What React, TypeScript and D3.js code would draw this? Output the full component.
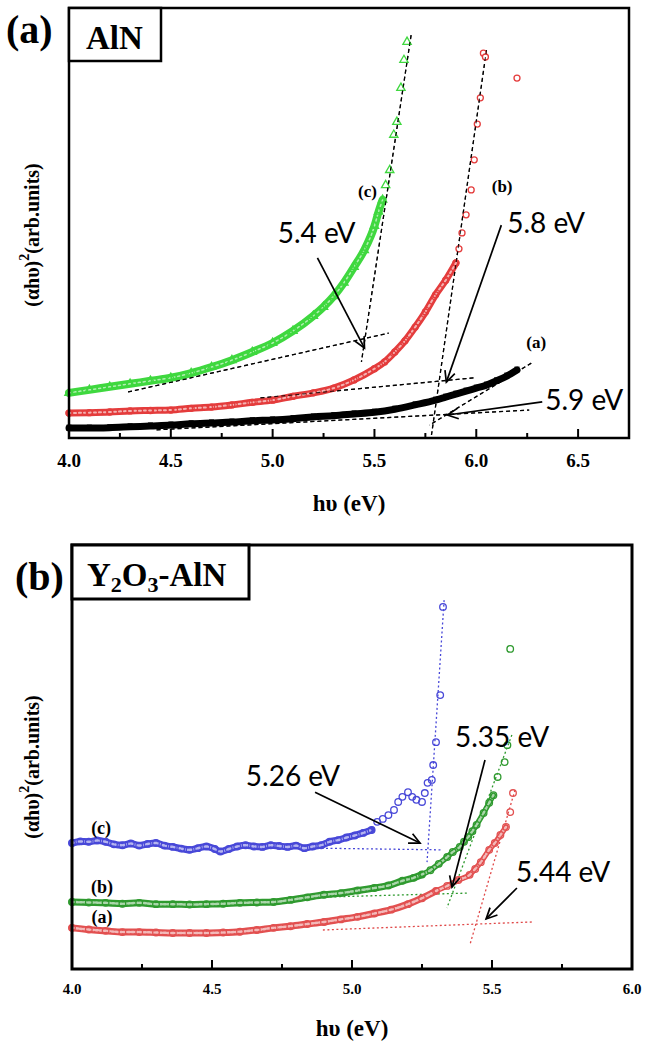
import React from 'react';
import * as d3 from 'd3';

type P = [number, number];

const W = 663;
const H = 1042;

// ---------- Panel (a) AlN : [hv (eV), (αhv)^2 arb. units] ----------
const aMajorTicks = [4.0, 4.5, 5.0, 5.5, 6.0, 6.5];
const aMinorTicks = [4.25, 4.75, 5.25, 5.75, 6.25];

const aBlack: P[] = [
  [4.0, 2.3], [4.1, 2.3], [4.2, 2.4], [4.3, 2.6], [4.4, 2.8], [4.5, 3.0], [4.6, 3.3], [4.7, 3.5],
  [4.8, 3.7], [4.9, 4.0], [5.0, 4.2], [5.1, 4.5], [5.2, 4.9], [5.3, 5.2], [5.4, 5.6], [5.5, 6.0],
  [5.6, 6.7], [5.7, 7.7], [5.8, 8.8], [5.85, 9.5], [5.9, 10.2], [5.95, 10.9], [6.0, 11.6],
  [6.05, 12.3], [6.1, 13.3], [6.15, 14.4], [6.2, 15.8],
];
const aRedDense: P[] = [
  [4.0, 5.8], [4.1, 5.9], [4.2, 6.05], [4.3, 6.3], [4.4, 6.4], [4.5, 6.5], [4.6, 6.9], [4.7, 7.2],
  [4.8, 7.7], [4.9, 8.3], [5.0, 8.8], [5.1, 9.7], [5.2, 10.5], [5.3, 11.6], [5.4, 13.5], [5.5, 16.1],
  [5.55, 17.7], [5.6, 20.0], [5.65, 22.6], [5.7, 25.8], [5.75, 29.3], [5.8, 33.3], [5.85, 36.7],
  [5.9, 40.7],
];
const aRedSparse: P[] = [
  [5.915, 44.0], [5.93, 47.7], [5.95, 51.9], [5.975, 57.7], [5.99, 64.7], [6.005, 73.0], [6.02, 79.1],
  [6.035, 89.5], [6.045, 88.6], [6.2, 83.7],
];
const aGreenDense: P[] = [
  [4.0, 10.5], [4.1, 11.2], [4.2, 11.9], [4.3, 12.6], [4.4, 13.3], [4.5, 14.0], [4.6, 15.1],
  [4.7, 16.5], [4.8, 18.1], [4.9, 20.0], [5.0, 22.1], [5.1, 24.9], [5.2, 28.4], [5.25, 30.5],
  [5.3, 33.0], [5.35, 36.1], [5.4, 39.8], [5.45, 43.7], [5.5, 49.3], [5.52, 52.6], [5.54, 55.4],
];
const aGreenSparse: P[] = [
  [5.555, 58.8], [5.575, 62.3], [5.595, 70.5], [5.61, 73.5], [5.63, 81.4], [5.645, 87.9], [5.66, 92.1],
];
// dashed tangent lines [E1, y1, E2, y2]
const aTangents: number[][] = [
  [5.68, 93.7, 5.436, 17.7],
  [4.29, 10.7, 5.57, 24.4],
  [6.05, 90.2, 5.78, 0.7],
  [4.94, 9.3, 5.99, 14.0],
  [4.43, 1.9, 6.26, 6.5],
  [6.27, 17.4, 5.77, 3.0],
];
const aArrows: number[][] = [
  [5.22, 41.9, 5.451, 20.9],
  [6.123, 49.5, 5.853, 13.0],
  [6.324, 8.4, 5.858, 5.35],
];
const aNoteText = ['5.4 eV', '5.8 eV', '5.9 eV'];
const aNotePos: P[] = [[5.216, 47.9], [6.343, 50.2], [6.53, 9.1]];
const aCurveText = ['(c)', '(b)', '(a)'];
const aCurvePos: P[] = [[5.466, 57.4], [6.127, 58.4], [6.294, 22.3]];

// ---------- Panel (b) Y2O3-AlN ----------
const bMajorTicks = [4.0, 4.5, 5.0, 5.5, 6.0];
const bMinorTicks = [4.25, 4.75, 5.25, 5.75];

const bBlue: P[] = [
  [4.0, 29.7], [4.03, 30.1], [4.06, 30.0], [4.09, 30.3], [4.12, 30.0], [4.15, 29.4], [4.18, 29.2],
  [4.21, 29.6], [4.24, 29.1], [4.27, 29.5], [4.3, 29.7], [4.33, 29.1], [4.36, 28.8], [4.39, 28.4],
  [4.42, 28.1], [4.45, 28.5], [4.48, 28.9], [4.51, 28.3], [4.53, 27.7], [4.56, 28.3], [4.59, 28.9],
  [4.62, 29.2], [4.65, 28.9], [4.68, 28.8], [4.71, 29.2], [4.74, 29.0], [4.77, 28.8], [4.8, 29.1],
  [4.83, 28.5], [4.86, 28.9], [4.89, 29.2], [4.92, 30.0], [4.95, 30.4], [4.98, 31.0], [5.01, 31.5],
  [5.04, 32.1], [5.07, 32.8], [5.09, 34.7], [5.11, 35.4], [5.13, 36.3], [5.15, 37.5], [5.165, 39.4],
  [5.18, 40.6], [5.2, 41.7], [5.215, 40.6], [5.23, 39.9], [5.25, 39.4], [5.26, 41.5], [5.27, 43.9],
  [5.285, 44.6], [5.29, 48.1], [5.3, 53.5], [5.315, 64.6], [5.325, 85.4],
];
const bGreen: P[] = [
  [4.0, 15.8], [4.06, 15.7], [4.12, 15.6], [4.18, 15.4], [4.24, 15.6], [4.3, 15.3], [4.36, 15.3],
  [4.42, 15.2], [4.48, 15.3], [4.54, 15.4], [4.6, 15.6], [4.66, 15.7], [4.72, 15.8], [4.78, 16.3],
  [4.84, 16.9], [4.9, 17.5], [4.96, 17.9], [5.02, 18.5], [5.08, 19.1], [5.13, 19.7], [5.18, 20.8],
  [5.22, 21.5], [5.25, 22.3], [5.28, 23.3], [5.31, 24.8], [5.34, 26.4], [5.36, 27.6], [5.385, 28.8],
  [5.4, 30.0], [5.415, 31.1], [5.43, 32.5], [5.445, 34.0], [5.47, 36.8], [5.49, 39.2], [5.505, 41.0],
  [5.52, 45.3], [5.545, 48.8], [5.555, 52.8], [5.565, 75.5],
];
const bRed: P[] = [
  [4.0, 9.7], [4.06, 9.3], [4.12, 9.0], [4.18, 8.7], [4.24, 8.7], [4.3, 8.6], [4.36, 8.5],
  [4.42, 8.5], [4.48, 8.5], [4.54, 8.6], [4.6, 8.8], [4.66, 9.2], [4.72, 9.7], [4.78, 10.1],
  [4.84, 10.6], [4.9, 11.1], [4.96, 11.7], [5.02, 12.3], [5.08, 13.1], [5.14, 14.0], [5.2, 15.3],
  [5.25, 16.7], [5.3, 18.4], [5.34, 19.6], [5.38, 21.0], [5.42, 22.2], [5.44, 23.6], [5.46, 25.2],
  [5.49, 28.1], [5.51, 29.7], [5.53, 31.6], [5.55, 33.5], [5.565, 37.0], [5.575, 41.5],
];
const bTangents: number[][] = [
  [5.329, 87.0, 5.268, 25.2],
  [4.875, 28.5, 5.321, 28.1],
  [5.571, 55.2, 5.339, 14.4],
  [4.921, 17.0, 5.414, 17.9],
  [5.582, 42.2, 5.421, 5.7],
  [4.896, 9.2, 5.646, 11.1],
];
const bTangentColor = ['#4848d8', '#4848d8', '#2f9a2f', '#2f9a2f', '#e04848', '#e04848'];
const bArrows: number[][] = [
  [4.868, 41.7, 5.243, 29.7],
  [5.475, 49.3, 5.357, 19.3],
  [5.589, 19.1, 5.479, 11.8],
];
const bNoteText = ['5.26 eV', '5.35 eV', '5.44 eV'];
const bNotePos: P[] = [[4.789, 45.8], [5.536, 55.0], [5.754, 23.1]];
const bCurveText = ['(c)', '(b)', '(a)'];
const bCurvePos: P[] = [[4.104, 33.3], [4.107, 19.3], [4.107, 12.3]];

const SERIF = '"Liberation Serif", "Times New Roman", serif';
const SANS = 'Lato, "Open Sans", sans-serif';

function Arrow({ x1, y1, x2, y2 }: { x1: number; y1: number; x2: number; y2: number }) {
  const ang = Math.atan2(y1 - y2, x1 - x2);
  const L = 12, a = 0.45;
  const p1 = [x2 + L * Math.cos(ang + a), y2 + L * Math.sin(ang + a)];
  const p2 = [x2 + L * Math.cos(ang - a), y2 + L * Math.sin(ang - a)];
  return (
    <g stroke="#000" strokeWidth={1.7} fill="none">
      <line x1={x1} y1={y1} x2={x2} y2={y2} />
      <polyline points={`${p1[0]},${p1[1]} ${x2},${y2} ${p2[0]},${p2[1]}`} />
    </g>
  );
}

function Band({ data, x, y, color, width, inner, dash }: any) {
  const line = d3.line<P>().x(d => x(d[0])).y(d => y(d[1])).curve(d3.curveMonotoneX);
  const d = line(data) || '';
  return (
    <g fill="none" strokeLinecap="round" strokeLinejoin="round">
      <path d={d} stroke={color} strokeWidth={width} />
      {inner && <path d={d} stroke="#fff" strokeWidth={inner} strokeDasharray={dash || '2 3'} opacity={0.6} />}
    </g>
  );
}

function Axes({ l, r, t, b, major, minor, x, fs, sw, majLen, minLen, labelDy, titleY }: any) {
  return (
    <g>
      <rect x={l} y={t} width={r - l} height={b - t} fill="none" stroke="#000" strokeWidth={sw} />
      {major.map((v: number) => (
        <line key={'M' + v} x1={x(v)} x2={x(v)} y1={b} y2={b - majLen} stroke="#000" strokeWidth={2} />
      ))}
      {minor.map((v: number) => (
        <line key={'m' + v} x1={x(v)} x2={x(v)} y1={b} y2={b - minLen} stroke="#000" strokeWidth={2} />
      ))}
      {major.map((v: number) => (
        <text key={'t' + v} x={x(v)} y={b + labelDy} textAnchor="middle" fontFamily={SERIF}
          fontWeight="bold" fontSize={fs}>{v.toFixed(1)}</text>
      ))}
      <text x={(l + r) / 2} y={titleY} textAnchor="middle" fontFamily={SERIF} fontWeight="bold" fontSize={23}>
        hυ (eV)
      </text>
    </g>
  );
}

function YLabel({ cx, cy }: { cx: number; cy: number }) {
  return (
    <text transform={`translate(${cx},${cy}) rotate(-90)`} textAnchor="middle" dominantBaseline="central"
      fontFamily={SERIF} fontWeight="bold" fontSize={20}>
      (αhυ)<tspan fontSize={14} dy={-8}>2</tspan><tspan dy={8}>(arb.units)</tspan>
    </text>
  );
}

export default function App() {
  const xa = d3.scaleLinear().domain([4, 6.75]).range([69, 629]);
  const ya = d3.scaleLinear().domain([0, 100]).range([438, 8]);
  const xb = d3.scaleLinear().domain([4, 6]).range([72, 632]);
  const yb = d3.scaleLinear().domain([0, 100]).range([969, 545]);

  const GA = '#3fd83f', RA = '#e43c3c';
  const BB = '#4848d8', GB = '#2f9a2f', RB = '#e25050';

  const tri = d3.symbol().type(d3.symbolTriangle).size(30)() || '';

  return (
    <svg width={W} height={H} style={{ position: 'absolute', left: 0, top: 0, background: '#fff' }}>
      <rect x={0} y={0} width={W} height={H} fill="#fff" />
      {/* ================= Panel (a) ================= */}
      <g>
        {aTangents.map((t, i) => (
          <line key={i} x1={xa(t[0])} y1={ya(t[1])} x2={xa(t[2])} y2={ya(t[3])}
            stroke="#000" strokeWidth={1.3} strokeDasharray="4 3" />
        ))}
        <Band data={aBlack} x={xa} y={ya} color="#000" width={7} />
        {aBlack.map((d, i) => (
          <rect key={i} x={xa(d[0]) - 2.5} y={ya(d[1]) - 3.5} width={5} height={6} fill="#000" />
        ))}
        <Band data={aRedDense} x={xa} y={ya} color={RA} width={7} inner={2} />
        {aRedDense.concat(aRedSparse).map((d, i) => (
          <circle key={i} cx={xa(d[0])} cy={ya(d[1])} r={3} fill="#fff" stroke={RA} strokeWidth={1.3}
            fillOpacity={i < aRedDense.length ? 0 : 1} />
        ))}
        <Band data={aGreenDense} x={xa} y={ya} color={GA} width={8} inner={1.5} />
        {aGreenDense.concat(aGreenSparse).map((d, i) => (
          <path key={i} d={tri} transform={`translate(${xa(d[0])},${ya(d[1])})`} fill="none"
            stroke={GA} strokeWidth={1.3} />
        ))}
        {aTangents.map((t, i) => (
          <line key={'o' + i} x1={xa(t[0])} y1={ya(t[1])} x2={xa(t[2])} y2={ya(t[3])}
            stroke="#000" strokeWidth={1.1} strokeDasharray="4 3" opacity={0.8} />
        ))}
        {aArrows.map((a, i) => (
          <Arrow key={i} x1={xa(a[0])} y1={ya(a[1])} x2={xa(a[2])} y2={ya(a[3])} />
        ))}
        {aNoteText.map((s, i) => (
          <text key={i} x={xa(aNotePos[i][0])} y={ya(aNotePos[i][1])} textAnchor="middle"
            dominantBaseline="central" fontFamily={SANS} fontSize={28}>{s}</text>
        ))}
        {aCurveText.map((s, i) => (
          <text key={i} x={xa(aCurvePos[i][0])} y={ya(aCurvePos[i][1])} textAnchor="middle"
            dominantBaseline="central" fontFamily={SERIF} fontWeight="bold" fontSize={17}>{s}</text>
        ))}
        <Axes l={69} r={629} t={8} b={438} major={aMajorTicks} minor={aMinorTicks} x={xa} fs={19}
          sw={2.5} majLen={9} minLen={5} labelDy={29} titleY={511} />
        <rect x={69} y={8} width={92} height={53} fill="#fff" stroke="#000" strokeWidth={2.5} />
        <text x={86} y={49} fontFamily={SERIF} fontWeight="bold" fontSize={33}>AlN</text>
        <text x={6} y={43} fontFamily={SERIF} fontWeight="bold" fontSize={40}>(a)</text>
        <YLabel cx={32} cy={235} />
      </g>

      {/* ================= Panel (b) ================= */}
      <g>
        {bTangents.map((t, i) => (
          <line key={i} x1={xb(t[0])} y1={yb(t[1])} x2={xb(t[2])} y2={yb(t[3])}
            stroke={bTangentColor[i]} strokeWidth={1.3} strokeDasharray="2 2.5" />
        ))}
        <Band data={bRed.filter(d => d[0] <= 5.3)} x={xb} y={yb} color={RB} width={7} inner={2.5} dash="2 2" />
        <Band data={bRed.filter(d => d[0] >= 5.3 && d[0] <= 5.55)} x={xb} y={yb} color={RB} width={5.5} inner={2.5} dash="2 2" />
        {bRed.map((d, i) => (
          <circle key={i} cx={xb(d[0])} cy={yb(d[1])} r={3.3} fill="none" stroke={RB} strokeWidth={1.3} />
        ))}
        <Band data={bGreen.filter(d => d[0] <= 5.25)} x={xb} y={yb} color={GB} width={7} inner={2.5} dash="2 2" />
        <Band data={bGreen.filter(d => d[0] >= 5.25 && d[0] <= 5.505)} x={xb} y={yb} color={GB} width={5.5} inner={2.5} dash="2 2" />
        {bGreen.map((d, i) => (
          <circle key={i} cx={xb(d[0])} cy={yb(d[1])} r={3.3} fill="none" stroke={GB} strokeWidth={1.3} />
        ))}
        <Band data={bBlue.filter(d => d[0] <= 5.07)} x={xb} y={yb} color={BB} width={7} inner={2.5} dash="2 2" />
        {bBlue.map((d, i) => (
          <circle key={i} cx={xb(d[0])} cy={yb(d[1])} r={3.3} fill="none" stroke={BB} strokeWidth={1.3} />
        ))}
        {bArrows.map((a, i) => (
          <Arrow key={i} x1={xb(a[0])} y1={yb(a[1])} x2={xb(a[2])} y2={yb(a[3])} />
        ))}
        {bNoteText.map((s, i) => (
          <text key={i} x={xb(bNotePos[i][0])} y={yb(bNotePos[i][1])} textAnchor="middle"
            dominantBaseline="central" fontFamily={SANS} fontSize={28}>{s}</text>
        ))}
        {bCurveText.map((s, i) => (
          <text key={i} x={xb(bCurvePos[i][0])} y={yb(bCurvePos[i][1])} textAnchor="middle"
            dominantBaseline="central" fontFamily={SERIF} fontWeight="bold" fontSize={18}>{s}</text>
        ))}
        <Axes l={72} r={632} t={545} b={969} major={bMajorTicks} minor={bMinorTicks} x={xb} fs={15}
          sw={3} majLen={9} minLen={5} labelDy={25} titleY={1036} />
        <rect x={72} y={545} width={177} height={54} fill="#fff" stroke="#000" strokeWidth={3} />
        <text x={87} y={586} fontFamily={SERIF} fontWeight="bold" fontSize={33}>
          Y<tspan fontSize={22} dy={6}>2</tspan><tspan dy={-6}>O</tspan><tspan fontSize={22} dy={6}>3</tspan><tspan dy={-6}>-AlN</tspan>
        </text>
        <text x={15} y={590} fontFamily={SERIF} fontWeight="bold" fontSize={40}>(b)</text>
        <YLabel cx={32} cy={767} />
      </g>
    </svg>
  );
}
